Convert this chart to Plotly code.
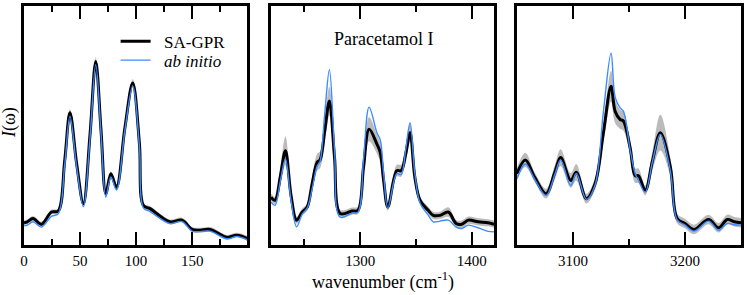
import numpy as np
import plotly.graph_objects as go

# ---------------- data (arbitrary intensity units) -------------
# Panel 1: low-frequency region
w1 = [0, 3, 8, 15.5, 24.5, 30.5, 36.3, 41, 47, 53, 58.9, 64, 68.75, 73, 77.5, 82.5,
      90, 97, 103, 106.5, 112.5, 130, 141, 150, 157, 166, 181, 190, 200]
sagpr1 = [9.3, 9.7, 11.1, 8.7, 13.8, 14.2, 35.3, 55.3, 33.9, 17.3, 46.3, 76.8, 47.7, 21.5, 29.8, 24.2,
          49.0, 67.8, 42.2, 16.6, 15.2, 9.7, 10.4, 6.5, 6.2, 6.5, 3.2, 4.1, 2.6]
abinit1 = [8.0, 8.3, 9.7, 7.5, 12.0, 13.0, 33.5, 53.9, 32.5, 16.0, 45.0, 75.4, 46.5, 20.0, 28.5, 23.0,
           48.0, 66.4, 41.0, 15.5, 14.0, 9.0, 9.8, 5.8, 5.6, 5.8, 2.6, 3.6, 2.0]
err1 = [1.0, 1.0, 1.0, 1.0, 1.0, 1.0, 1.2, 1.5, 1.2, 1.0, 1.3, 1.6, 1.3, 1.0, 1.0, 1.0,
        1.3, 1.5, 1.3, 1.0, 1.0, 1.0, 1.0, 1.0, 1.0, 1.0, 1.0, 1.0, 1.0]

# Panel 2: fingerprint region
w2 = [1220, 1223.6, 1228.5, 1233, 1238, 1243, 1248, 1252.5, 1256.9, 1261.4, 1264, 1268.2, 1272.4,
      1277, 1282, 1292.6, 1298, 1303, 1308, 1315, 1318, 1321, 1324.8, 1332.8, 1336.7, 1340.8,
      1344.7, 1349, 1353.7, 1361, 1365.5, 1371.5, 1379, 1386, 1391, 1397, 1405.7, 1414.6, 1420]
sagpr2 = [20.0, 18.7, 29.0, 39.4, 20.7, 10.4, 13.8, 15.9, 25.6, 34.6, 35.6, 47.7, 60.2,
          36.6, 13.2, 14.2, 14.5, 32.5, 48.4, 42.2, 38.7, 27.0, 15.9, 31.1, 31.1, 38.0,
          47.0, 28.3, 18.7, 14.5, 12.4, 12.4, 13.8, 9.0, 8.7, 10.4, 9.7, 9.3, 8.7]
abinit2 = [18.0, 16.6, 27.0, 36.0, 18.7, 7.6, 12.9, 15.4, 23.5, 33.0, 35.0, 55.0, 73.3,
           40.0, 11.6, 13.3, 13.7, 36.0, 57.7, 47.0, 44.0, 30.0, 15.4, 29.9, 29.5, 40.0,
           51.2, 30.0, 17.5, 12.5, 9.7, 10.0, 10.4, 7.5, 6.9, 8.3, 7.2, 5.7, 5.5]
err2 = [1.5, 1.5, 4.0, 6.0, 3.0, 1.5, 1.5, 1.5, 3.0, 3.5, 3.5, 5.0, 6.0,
        3.5, 1.5, 1.5, 1.5, 3.5, 5.0, 4.0, 4.0, 3.0, 1.5, 2.5, 2.5, 3.0,
        4.0, 2.5, 1.5, 1.5, 1.5, 1.5, 2.0, 1.5, 1.5, 1.5, 1.5, 1.5, 1.5]

# Panel 3: C-H / N-H stretching region
w3 = [3050, 3057.5, 3065.9, 3076, 3083.8, 3089, 3098, 3103, 3112, 3119.7, 3127, 3134, 3137.6,
      3142, 3145, 3151, 3155.5, 3158.5, 3164.5, 3171, 3178, 3187, 3193, 3200, 3208, 3221,
      3230, 3237.7, 3244, 3250]
sagpr3 = [29.8, 35.6, 28.3, 21.5, 30.4, 36.6, 27.0, 30.4, 19.4, 25.6, 46.3, 66.4, 56.0,
          52.6, 51.9, 40.8, 29.0, 29.0, 22.8, 35.3, 47.0, 32.5, 11.1, 9.0, 6.5, 10.7,
          7.2, 10.7, 9.7, 9.3]
abinit3 = [27.7, 33.9, 27.5, 20.7, 29.5, 35.6, 24.9, 29.9, 19.1, 25.0, 55.0, 80.2, 62.0,
           57.4, 56.0, 40.0, 29.9, 27.0, 22.1, 35.0, 46.3, 31.0, 10.5, 8.3, 5.8, 10.0,
           6.2, 9.0, 8.5, 8.3]
err3 = [2.5, 3.0, 2.0, 2.0, 3.0, 3.5, 3.0, 3.5, 2.0, 2.5, 4.0, 6.5, 5.0,
        4.0, 4.0, 3.0, 3.0, 3.0, 2.0, 4.0, 7.5, 4.0, 2.0, 2.0, 2.0, 2.0,
        2.0, 2.0, 2.0, 2.0]

panels = [(w1, sagpr1, abinit1, err1), (w2, sagpr2, abinit2, err2), (w3, sagpr3, abinit3, err3)]
xranges = [[0, 199], [1220, 1420], [3050, 3250]]
minor = [25, 50, 50]
tickvals = [[0, 50, 100, 150], [1300, 1400], [3100, 3200]]
series_names = ["SA-GPR", "<i>ab initio</i>"]

BLACK = "#000000"
BLUE = "#3d8bff"
GRAY = "rgba(170,170,170,0.8)"
FONT = "Liberation Serif"
PAD = "\u00a0\u00a0"

fig = go.Figure()
L, R = 24, 3
W = 747 - L - R
pix_domains = [(24, 248), (272, 496), (519, 744)]
domains = [[(a - L) / W, (b - L) / W] for a, b in pix_domains]

for i, (w, s, a, e) in enumerate(panels):
    xa = "x" if i == 0 else f"x{i+1}"
    ya = "y" if i == 0 else f"y{i+1}"
    s_arr = np.array(s)
    e_arr = np.array(e)
    fig.add_trace(go.Scatter(x=w, y=s_arr + e_arr, mode="lines", line=dict(width=0, shape="spline", color=GRAY),
                             showlegend=False, hoverinfo="skip", xaxis=xa, yaxis=ya))
    fig.add_trace(go.Scatter(x=w, y=s_arr - e_arr, mode="lines", line=dict(width=0, shape="spline", color=GRAY),
                             fill="tonexty", fillcolor=GRAY, showlegend=False, hoverinfo="skip",
                             xaxis=xa, yaxis=ya))
    fig.add_trace(go.Scatter(x=w, y=s, mode="lines", name=PAD + series_names[0],
                             line=dict(color=BLACK, width=3, shape="spline"),
                             showlegend=(i == 0), legend="legend", xaxis=xa, yaxis=ya))
    fig.add_trace(go.Scatter(x=w, y=a, mode="lines", name=PAD + series_names[1],
                             line=dict(color=BLUE, width=1.4, shape="spline"),
                             showlegend=(i == 0), legend="legend2", xaxis=xa, yaxis=ya))

for i in range(3):
    sfx = "" if i == 0 else str(i + 1)
    fig.update_layout(**{
        f"xaxis{sfx}": dict(
            domain=domains[i], range=xranges[i], anchor=f"y{sfx}",
            tickmode="array", tickvals=tickvals[i],
            ticks="inside", ticklen=13, tickwidth=2, tickcolor="black",
            minor=dict(tickmode="linear", tick0=0, dtick=minor[i], ticks="inside", ticklen=6,
                       tickwidth=2, tickcolor="black"),
            showline=True, linewidth=3, linecolor="black", mirror="allticks",
            showgrid=False, zeroline=False,
            tickfont=dict(family=FONT, size=15, color="black"),
        ),
        f"yaxis{sfx}": dict(
            domain=[0, 1], range=[0, 100], anchor=f"x{sfx}",
            showticklabels=False, ticks="",
            showline=True, linewidth=3, linecolor="black", mirror=True,
            showgrid=False, zeroline=False,
        ),
    })

fig.add_annotation(text="Paracetamol I", xref="paper", yref="paper",
                   x=((385 - L) / W), y=(245 - 37) / 241, xanchor="center", yanchor="middle",
                   showarrow=False, font=dict(family=FONT, size=18, color="black"))
fig.add_annotation(text="wavenumber (cm<sup>-1</sup>)", xref="paper", yref="paper",
                   x=((385 - L) / W), y=-(281 - 245) / 241, xanchor="center", yanchor="middle",
                   showarrow=False, font=dict(family=FONT, size=18, color="black"))
fig.add_annotation(text="<i>I</i>(ω)", xref="paper", yref="paper",
                   x=-(24 - 9) / W, y=(245 - 122) / 241, xanchor="center", yanchor="middle",
                   textangle=-90, showarrow=False, font=dict(family=FONT, size=18, color="black"))

leg_common = dict(xanchor="left", yanchor="middle", bgcolor="rgba(0,0,0,0)",
                  font=dict(family=FONT, size=17, color="black"), itemwidth=30)
fig.update_layout(
    width=747, height=295,
    margin=dict(l=L, r=R, t=4, b=50),
    font=dict(family=FONT, color="black"),
    paper_bgcolor="white", plot_bgcolor="white",
    showlegend=True,
    legend=dict(x=(116 - L) / W, y=(245 - 40) / 241, **leg_common),
    legend2=dict(x=(116 - L) / W, y=(245 - 59) / 241, **leg_common),
)

fig.write_html("out.html", config={"displayModeBar": False},
               post_script="document.body.style.margin='0';document.body.style.padding='0';")
